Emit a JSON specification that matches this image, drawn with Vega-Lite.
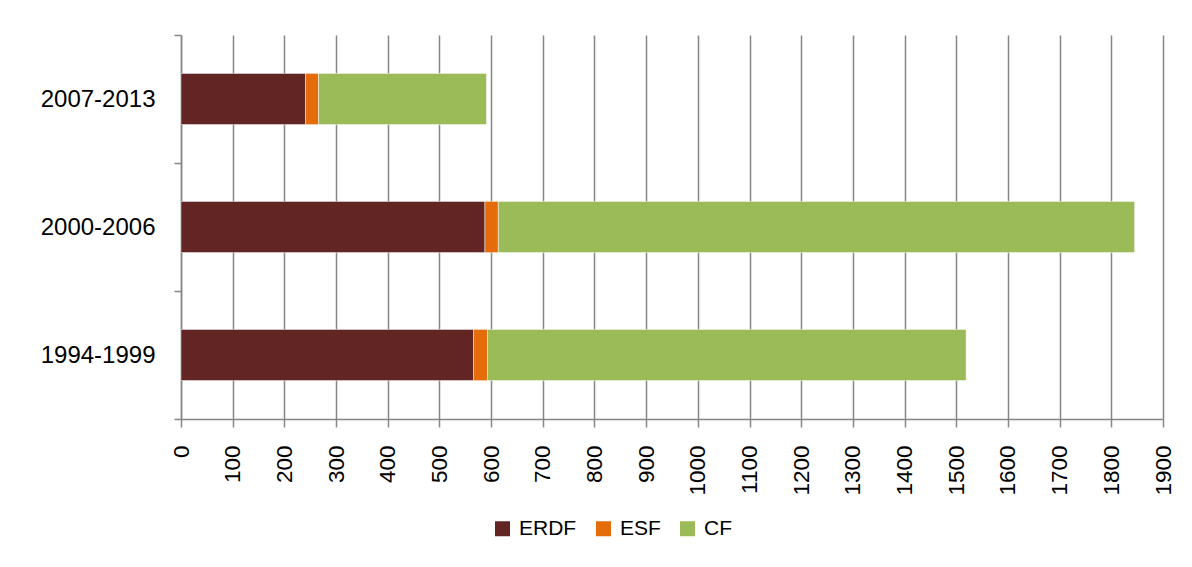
{
  "$schema": "https://vega.github.io/schema/vega-lite/v6.json",
  "autosize": {"type": "none"},
  "width": 982,
  "height": 384,
  "padding": {"left": 181, "top": 35, "right": 29, "bottom": 148},
  "background": "#ffffff",
  "data": {
    "values": [
      {"period": "2007-2013", "fund": "ERDF", "k": 1, "value": 241},
      {"period": "2007-2013", "fund": "ESF", "k": 2, "value": 25},
      {"period": "2007-2013", "fund": "CF", "k": 3, "value": 325},
      {"period": "2000-2006", "fund": "ERDF", "k": 1, "value": 588},
      {"period": "2000-2006", "fund": "ESF", "k": 2, "value": 26},
      {"period": "2000-2006", "fund": "CF", "k": 3, "value": 1231},
      {"period": "1994-1999", "fund": "ERDF", "k": 1, "value": 566},
      {"period": "1994-1999", "fund": "ESF", "k": 2, "value": 27},
      {"period": "1994-1999", "fund": "CF", "k": 3, "value": 926}
    ]
  },
  "mark": {"type": "bar", "height": {"band": 0.4}, "stroke": "#ffffff", "strokeOpacity": 0.45, "strokeWidth": 1},
  "encoding": {
    "y": {
      "field": "period",
      "type": "nominal",
      "sort": ["2007-2013", "2000-2006", "1994-1999"],
      "scale": {"paddingInner": 0, "paddingOuter": 0},
      "axis": {
        "title": null,
        "domainColor": "#868686",
        "domainWidth": 1.5,
        "tickColor": "#868686",
        "tickWidth": 1.5,
        "tickSize": 7,
        "tickBand": "extent",
        "labelPadding": 19,
        "labelFontSize": 24,
        "labelFont": "Liberation Sans",
        "labelColor": "#000000"
      }
    },
    "x": {
      "field": "value",
      "type": "quantitative",
      "stack": "zero",
      "scale": {"domain": [0, 1900], "nice": false},
      "axis": {
        "title": null,
        "format": "d",
        "values": [0,100,200,300,400,500,600,700,800,900,1000,1100,1200,1300,1400,1500,1600,1700,1800,1900],
        "labelAngle": -90,
        "labelFontSize": 22.5,
        "labelFont": "Liberation Sans",
        "labelColor": "#000000",
        "labelPadding": 18,
        "labelFlush": false,
        "labelOverlap": false,
        "grid": true,
        "gridColor": "#868686",
        "gridWidth": 1.5,
        "domainColor": "#868686",
        "domainWidth": 1.5,
        "tickColor": "#868686",
        "tickWidth": 1.5,
        "tickSize": 8
      }
    },
    "color": {
      "field": "fund",
      "type": "nominal",
      "sort": ["ERDF", "ESF", "CF"],
      "scale": {"domain": ["ERDF", "ESF", "CF"], "range": ["#632523", "#E46C0A", "#9BBB59"]},
      "legend": {
        "title": null,
        "orient": "none",
        "direction": "horizontal",
        "legendX": 311,
        "legendY": 483,
        "symbolType": "square",
        "symbolSize": 225,
        "symbolStrokeWidth": 0,
        "labelFontSize": 21,
        "labelFont": "Liberation Sans",
        "labelColor": "#000000",
        "labelOffset": 6,
        "columnPadding": 16
      }
    },
    "order": {"field": "k", "type": "quantitative"}
  },
  "config": {
    "view": {"stroke": null}
  }
}
